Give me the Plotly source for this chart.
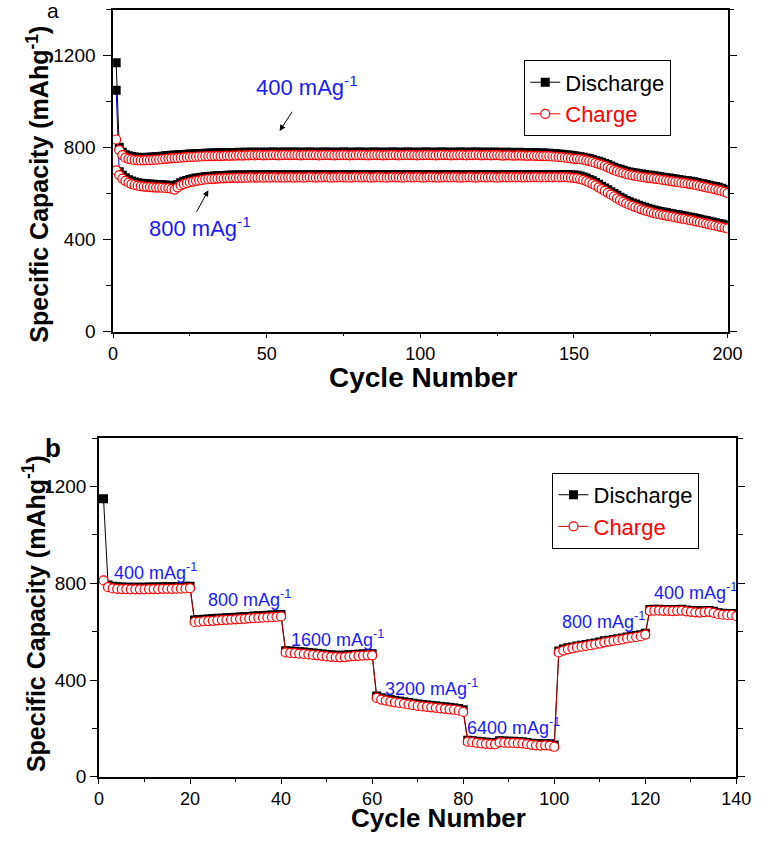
import plotly.graph_objects as go

# ---------------- data: panel a (cycling at 400 and 800 mA/g) ----------------
cycles_a = list(range(1, 201))

dis_400 = [1170, 802, 781, 770, 765, 762, 760, 759, 758, 758,
           759, 759, 760, 761, 762, 763, 765, 766, 767, 768,
           769, 770, 771, 772, 773, 773, 774, 775, 775, 776,
           776, 777, 777, 778, 777, 778, 779, 778, 779, 779,
           780, 779, 780, 780, 781, 780, 781, 781, 780, 781,
           781, 782, 781, 780, 781, 782, 781, 781, 782, 781,
           780, 781, 781, 782, 781, 781, 780, 781, 782, 781,
           781, 780, 781, 781, 782, 781, 780, 781, 781, 782,
           781, 781, 780, 781, 782, 781, 781, 780, 781, 781,
           782, 781, 780, 781, 781, 782, 781, 781, 780, 781,
           781, 782, 781, 781, 780, 781, 782, 781, 781, 780,
           781, 781, 782, 781, 780, 781, 781, 782, 781, 780,
           781, 781, 780, 781, 781, 780, 779, 780, 780, 779,
           779, 780, 779, 779, 778, 779, 778, 778, 777, 777,
           776, 776, 775, 774, 773, 772, 770, 769, 767, 765,
           763, 761, 759, 756, 753, 749, 745, 741, 737, 732,
           727, 721, 715, 710, 706, 702, 698, 695, 692, 690,
           688, 686, 684, 682, 680, 678, 676, 674, 672, 670,
           668, 666, 664, 662, 660, 658, 656, 654, 652, 649,
           646, 643, 640, 637, 634, 631, 628, 624, 620, 615]

chg_400 = [836, 790, 768, 757, 752, 749, 747, 746, 745, 745,
           746, 746, 747, 748, 749, 750, 752, 753, 754, 755,
           756, 757, 758, 759, 760, 760, 761, 762, 762, 763,
           763, 764, 764, 765, 764, 765, 766, 765, 766, 766,
           767, 766, 767, 767, 768, 767, 768, 768, 767, 768,
           768, 769, 768, 767, 768, 769, 768, 768, 769, 768,
           767, 768, 768, 769, 768, 768, 767, 768, 769, 768,
           768, 767, 768, 768, 769, 768, 767, 768, 768, 769,
           768, 768, 767, 768, 769, 768, 768, 767, 768, 768,
           769, 768, 767, 768, 768, 769, 768, 768, 767, 768,
           768, 769, 768, 768, 767, 768, 769, 768, 768, 767,
           768, 768, 769, 768, 767, 768, 768, 769, 768, 767,
           768, 768, 767, 768, 768, 767, 766, 767, 767, 766,
           766, 767, 766, 766, 765, 766, 765, 765, 764, 764,
           763, 763, 762, 761, 760, 759, 757, 756, 754, 752,
           752, 750, 748, 745, 742, 738, 734, 730, 726, 721,
           715, 709, 703, 698, 694, 690, 686, 683, 680, 678,
           675, 673, 671, 669, 668, 666, 664, 662, 660, 658,
           656, 654, 652, 650, 648, 646, 644, 642, 640, 637,
           634, 631, 628, 625, 622, 619, 616, 612, 608, 603]

dis_800 = [1050, 696, 680, 669, 661, 655, 651, 648, 646, 644,
           643, 642, 641, 640, 640, 639, 638, 637, 634, 631,
           640, 648, 654, 658, 662, 665, 668, 670, 672, 674,
           675, 676, 677, 678, 679, 679, 680, 680, 681, 681,
           682, 681, 682, 682, 683, 682, 682, 683, 682, 683,
           682, 683, 683, 682, 683, 682, 683, 683, 682, 683,
           683, 682, 683, 684, 683, 682, 683, 683, 684, 683,
           682, 683, 683, 684, 683, 683, 682, 683, 684, 683,
           683, 684, 683, 682, 683, 684, 683, 683, 682, 683,
           684, 683, 683, 682, 683, 684, 683, 683, 684, 683,
           682, 683, 684, 683, 683, 682, 683, 684, 683, 683,
           684, 683, 682, 683, 683, 684, 683, 682, 683, 684,
           683, 683, 684, 683, 682, 683, 684, 683, 683, 684,
           683, 684, 683, 683, 684, 683, 684, 684, 683, 684,
           683, 684, 683, 684, 683, 684, 684, 683, 682, 681,
           680, 677, 673, 668, 662, 656, 649, 641, 633, 625,
           617, 609, 601, 593, 585, 578, 571, 565, 560, 555,
           550, 545, 541, 537, 533, 529, 526, 523, 520, 518,
           515, 513, 510, 508, 505, 503, 500, 498, 495, 492,
           489, 486, 483, 480, 477, 474, 471, 468, 465, 462]

chg_800 = [702, 681, 666, 656, 648, 642, 638, 635, 633, 631,
           630, 629, 628, 627, 627, 626, 625, 624, 621, 618,
           628, 636, 642, 646, 650, 653, 656, 658, 660, 662,
           663, 664, 665, 666, 667, 667, 668, 668, 669, 669,
           670, 669, 670, 670, 671, 670, 670, 671, 670, 671,
           670, 671, 671, 670, 671, 670, 671, 671, 670, 671,
           671, 670, 671, 672, 671, 670, 671, 671, 672, 671,
           670, 671, 671, 672, 671, 671, 670, 671, 672, 671,
           671, 672, 671, 670, 671, 672, 671, 671, 670, 671,
           672, 671, 671, 670, 671, 672, 671, 671, 672, 671,
           670, 671, 672, 671, 671, 670, 671, 672, 671, 671,
           672, 671, 670, 671, 671, 672, 671, 670, 671, 672,
           671, 671, 672, 671, 670, 671, 672, 671, 671, 672,
           671, 672, 671, 671, 672, 671, 672, 672, 671, 672,
           671, 672, 671, 672, 671, 672, 672, 671, 670, 669,
           667, 664, 660, 655, 649, 643, 636, 628, 620, 612,
           604, 596, 588, 580, 572, 565, 558, 552, 547, 542,
           537, 532, 528, 524, 520, 516, 513, 510, 507, 505,
           502, 500, 497, 495, 492, 490, 487, 485, 482, 479,
           476, 473, 470, 467, 464, 461, 458, 455, 452, 449]

# ---------------- data: panel b (rate capability) ----------------
cycles_b = list(range(1, 141))

dis_b = [1150, 793, 788, 786, 785, 784, 784, 784, 784, 784,
         785, 785, 785, 786, 786, 786, 787, 787, 788, 788,
         648, 650, 651, 652, 654, 655, 656, 658, 659, 660,
         661, 662, 663, 665, 666, 667, 668, 669, 670, 671,
         521, 520, 519, 517, 516, 514, 512, 510, 508, 506,
         504, 503, 502, 503, 505, 506, 507, 508, 509, 509,
         334, 327, 322, 319, 316, 313, 310, 307, 304, 301,
         299, 297, 295, 293, 291, 289, 287, 285, 282, 277,
         151, 149, 147, 145, 143, 142, 141, 149, 148, 147,
         147, 146, 145, 142, 139, 137, 136, 137, 136, 131,
         520, 528, 533, 537, 541, 544, 547, 550, 553, 557,
         562, 565, 568, 571, 574, 578, 581, 584, 587, 593,
         692, 693, 693, 692, 692, 691, 692, 693, 690, 688,
         686, 685, 687, 688, 684, 678, 676, 675, 675, 670]

chg_b = [812, 784, 779, 777, 776, 776, 775, 775, 775, 775,
         776, 776, 776, 777, 777, 777, 778, 778, 779, 780,
         640, 641, 643, 644, 645, 647, 648, 649, 650, 651,
         652, 653, 655, 656, 657, 658, 659, 660, 661, 663,
         514, 512, 511, 509, 508, 506, 504, 502, 500, 498,
         496, 495, 494, 495, 497, 499, 500, 501, 502, 502,
         326, 319, 315, 311, 308, 305, 302, 299, 296, 293,
         291, 289, 287, 285, 283, 281, 279, 277, 274, 268,
         145, 143, 140, 138, 136, 135, 134, 142, 141, 140,
         140, 139, 138, 135, 132, 130, 129, 130, 129, 124,
         514, 522, 527, 531, 535, 538, 541, 544, 547, 551,
         556, 559, 562, 565, 568, 572, 575, 578, 581, 588,
         686, 687, 687, 686, 686, 685, 686, 687, 684, 682,
         680, 679, 681, 682, 678, 672, 670, 669, 669, 664]

# rate labels (panel b): text, x (cycle), y (capacity)
rate_labels_b = ["400 mAg<sup>-1</sup>", "800 mAg<sup>-1</sup>", "1600 mAg<sup>-1</sup>",
                 "3200 mAg<sup>-1</sup>", "6400 mAg<sup>-1</sup>", "800 mAg<sup>-1</sup>",
                 "400 mAg<sup>-1</sup>"]
rate_x_b = [2.8, 23.5, 41.7, 62.3, 80.4, 101.2, 121.5]
rate_y_b = [850, 736, 573, 370, 207, 647, 765]

# ---------------- styling ----------------
FONT = "Liberation Sans, Arial, sans-serif"
BLUE = "#1a1aff"
RED = "#ff0000"

fig = go.Figure()

sq = dict(symbol="square", size=9, color="black")
circ_fill = dict(symbol="circle", size=9, color="white", line=dict(width=1.2, color=RED))

# Panel a traces
fig.add_trace(go.Scatter(x=cycles_a, y=dis_400, mode="lines+markers", name="Discharge",
                         line=dict(color="black", width=1), marker=sq,
                         xaxis="x", yaxis="y", legend="legend", showlegend=True))
fig.add_trace(go.Scatter(x=cycles_a, y=dis_800, mode="lines+markers", name="Discharge",
                         line=dict(color="#0000cc", width=1), marker=sq,
                         xaxis="x", yaxis="y", showlegend=False))
fig.add_trace(go.Scatter(x=cycles_a, y=chg_400, mode="lines+markers",
                         name="<span style='color:red'>Charge</span>",
                         line=dict(color=RED, width=1), marker=circ_fill,
                         xaxis="x", yaxis="y", legend="legend", showlegend=True))
fig.add_trace(go.Scatter(x=cycles_a, y=chg_800, mode="lines+markers", name="Charge",
                         line=dict(color=RED, width=1), marker=circ_fill,
                         xaxis="x", yaxis="y", showlegend=False))

# Panel b traces
fig.add_trace(go.Scatter(x=cycles_b, y=dis_b, mode="lines+markers", name="Discharge",
                         line=dict(color="black", width=1), marker=sq,
                         xaxis="x2", yaxis="y2", legend="legend2", showlegend=True))
fig.add_trace(go.Scatter(x=cycles_b, y=chg_b, mode="lines+markers",
                         name="<span style='color:red'>Charge</span>",
                         line=dict(color="#c00000", width=1), marker=circ_fill,
                         xaxis="x2", yaxis="y2", legend="legend2", showlegend=True))

W, H = 764, 845

def px_x(p):
    return p / W

def px_y(p):
    return 1 - p / H

axis_common = dict(showline=True, linecolor="black", linewidth=1.5, showgrid=False,
                   zeroline=False, ticks="outside", tickwidth=1.3,
                   tickcolor="black", color="black")

xminor_a = dict(ticks="outside", dtick=25, ticklen=3, tickwidth=1.2, tickcolor="black")
xminor_b = dict(ticks="outside", dtick=10, ticklen=3, tickwidth=1.2, tickcolor="black")
yminor = dict(ticks="outside", dtick=200, ticklen=5, tickwidth=1.2, tickcolor="black")

fig.update_layout(
    width=W, height=H,
    margin=dict(l=0, r=0, t=0, b=0),
    paper_bgcolor="white", plot_bgcolor="white",
    font=dict(family=FONT, color="black"),
    xaxis=dict(domain=[px_x(111), px_x(742)], anchor="y", range=[0, 200],
               dtick=50, tick0=0, mirror=True, ticklen=5, minor=xminor_a,
               tickfont=dict(family=FONT, size=18), **axis_common),
    yaxis=dict(domain=[px_y(336), px_y(10)], anchor="x", range=[0, 1400],
               dtick=400, tick0=0, mirror="ticks", ticklen=8, minor=yminor,
               ticklabelstandoff=4,
               tickfont=dict(family=FONT, size=19), **axis_common),
    xaxis2=dict(domain=[px_x(96.5), px_x(751)], anchor="y2", range=[0, 140],
                dtick=20, tick0=0, mirror=True, ticklen=5, minor=xminor_b,
                tickfont=dict(family=FONT, size=18), **axis_common),
    yaxis2=dict(domain=[px_y(787), px_y(444)], anchor="x2", range=[0, 1400],
                dtick=400, tick0=0, mirror="ticks", ticklen=7, minor=yminor,
                tickfont=dict(family=FONT, size=19), **axis_common),
    legend=dict(x=px_x(533), y=px_y(61), xanchor="left", yanchor="top",
                bordercolor="black", borderwidth=1.2, bgcolor="white",
                font=dict(family=FONT, size=22, color="black"), tracegroupgap=0),
    legend2=dict(x=px_x(562), y=px_y(479), xanchor="left", yanchor="top",
                 bordercolor="black", borderwidth=1.2, bgcolor="white",
                 font=dict(family=FONT, size=22, color="black"), tracegroupgap=0),
)

ann = []
# axis titles
ytitle = "Specific Capacity (mAhg<sup>-1</sup>)"
ann.append(dict(text=ytitle, xref="paper", yref="paper", x=px_x(33), y=px_y(187),
                textangle=-90, showarrow=False, xanchor="center", yanchor="middle",
                font=dict(family=FONT, size=25, color="black", weight="bold")))
ann.append(dict(text=ytitle, xref="paper", yref="paper", x=px_x(30), y=px_y(622),
                textangle=-90, showarrow=False, xanchor="center", yanchor="middle",
                font=dict(family=FONT, size=25, color="black", weight="bold")))
ann.append(dict(text="Cycle Number", xref="paper", yref="paper", x=px_x(429), y=px_y(382),
                showarrow=False, xanchor="center", yanchor="middle",
                font=dict(family=FONT, size=28, color="black", weight="bold")))
ann.append(dict(text="Cycle Number", xref="paper", yref="paper", x=px_x(445), y=px_y(829),
                showarrow=False, xanchor="center", yanchor="middle",
                font=dict(family=FONT, size=26, color="black", weight="bold")))
# panel letters
ann.append(dict(text="a", xref="paper", yref="paper", x=px_x(49), y=px_y(11),
                showarrow=False, xanchor="center", yanchor="middle",
                font=dict(family=FONT, size=21, color="black")))
ann.append(dict(text="b", xref="paper", yref="paper", x=px_x(49), y=px_y(454),
                showarrow=False, xanchor="center", yanchor="middle",
                font=dict(family=FONT, size=26, color="black", weight="bold")))
# panel a rate labels + arrows
ann.append(dict(text="400 mAg<sup>-1</sup>", xref="x", yref="y", x=45.8, y=1068,
                showarrow=False, xanchor="left", yanchor="middle",
                font=dict(family=FONT, size=22, color=BLUE)))
ann.append(dict(text="800 mAg<sup>-1</sup>", xref="x", yref="y", x=11.0, y=455,
                showarrow=False, xanchor="left", yanchor="middle",
                font=dict(family=FONT, size=22, color=BLUE)))
ann.append(dict(text="", xref="x", yref="y", x=54.2, y=873, axref="x", ayref="y",
                ax=58.6, ay=963, showarrow=True, arrowhead=2, arrowsize=1.2,
                arrowwidth=1, arrowcolor="black"))
ann.append(dict(text="", xref="x", yref="y", x=31.0, y=615, axref="x", ayref="y",
                ax=26.9, ay=515, showarrow=True, arrowhead=2, arrowsize=1.2,
                arrowwidth=1, arrowcolor="black"))
# panel b rate labels
for t, xv, yv in zip(rate_labels_b, rate_x_b, rate_y_b):
    ann.append(dict(text=t, xref="x2", yref="y2", x=xv, y=yv, showarrow=False,
                    xanchor="left", yanchor="middle",
                    font=dict(family=FONT, size=18, color=BLUE)))

fig.update_layout(annotations=ann)
fig.write_html("out.html")
